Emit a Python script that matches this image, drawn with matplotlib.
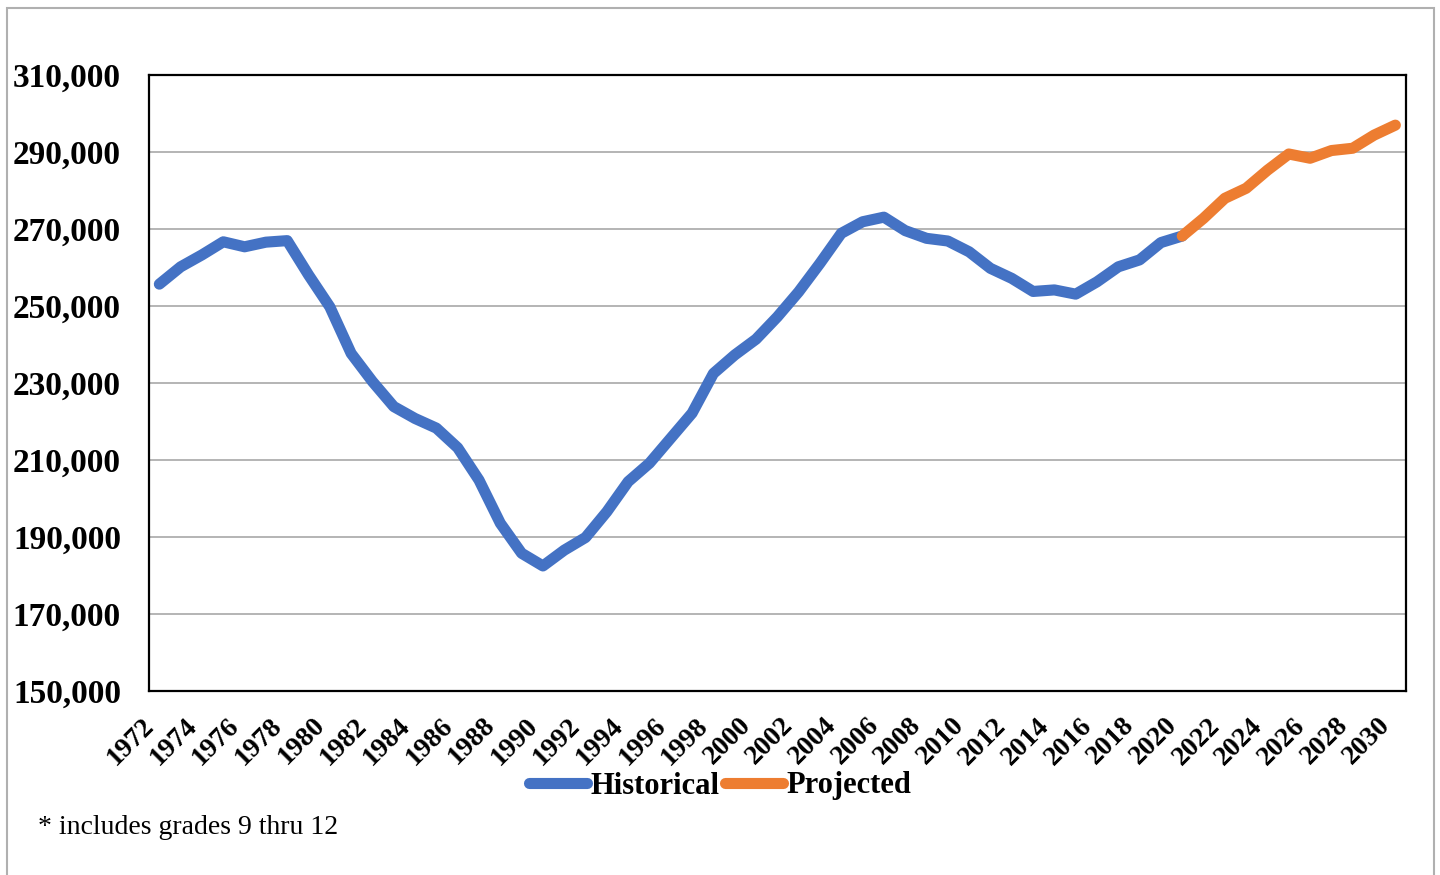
import numpy as np
import matplotlib
matplotlib.use('Agg')
import matplotlib.pyplot as plt
from matplotlib.patches import Rectangle
from matplotlib.ticker import FuncFormatter

# enrollment counts
hist_years = list(range(1972, 2021))
hist_vals = [255600, 260100, 263200, 266600, 265300, 266500, 266900, 258000, 249700, 237600,
             230300, 223800, 220700, 218200, 213100, 204700, 193500, 185700, 182400, 186500,
             189800, 196500, 204300, 209100, 215600, 222100, 232400, 237200, 241300, 247100,
             253600, 261000, 268800, 271800, 273000, 269500, 267500, 266800, 264000, 259700,
             257100, 253700, 254100, 253000, 256200, 260100, 261900, 266400, 268100]
proj_years = list(range(2020, 2031))
proj_vals = [268100, 272700, 277900, 280500, 285200, 289400, 288300, 290300, 290900, 294300, 296900]
tick_years = list(range(1972, 2031, 2))
y_ticks = list(range(150000, 310001, 20000))
footnote = '* includes grades 9 thru 12'

plt.rcParams['font.family'] = ['Liberation Serif', 'DejaVu Serif']

fig = plt.figure(figsize=(14.4, 8.75), dpi=100)
ax = fig.add_axes([148.7 / 1440, 1 - 690.7 / 875, (1406 - 148.7) / 1440, (690.7 - 74.7) / 875])

ax.plot(hist_years, hist_vals, color='#4472C4', lw=8, solid_capstyle='round',
        solid_joinstyle='round', label='Historical', zorder=3)
ax.plot(proj_years, proj_vals, color='#ED7D31', lw=8, solid_capstyle='round',
        solid_joinstyle='round', label='Projected', zorder=3)

ax.set_xlim(1971.5, 2030.5)
ax.set_ylim(150000, 310000)
ax.set_yticks(y_ticks)
ax.yaxis.set_major_formatter(FuncFormatter(lambda v, p: f'{int(v):,}'))
ax.set_xticks(tick_years)
ax.set_xticklabels([str(y) for y in tick_years], rotation=45, ha='right', va='top',
                   fontsize=20, fontweight='bold')
for lab in ax.get_yticklabels():
    lab.set_fontsize(24)
    lab.set_fontweight('bold')
ax.tick_params(axis='y', length=0, pad=20)
ax.tick_params(axis='x', length=0, pad=16)
ax.grid(axis='y', color='#a0a0a0', lw=1.1)
ax.set_axisbelow(True)
for s in ax.spines.values():
    s.set_color('black')
    s.set_linewidth(1.6)

fig.legend(loc='center', bbox_to_anchor=(0.5, 1 - 786 / 875), ncol=2, frameon=False,
           prop={'weight': 'bold', 'size': 22}, handlelength=1.9, handletextpad=0.1,
           columnspacing=0.2)

fig.text(38 / 1440, 1 - 828 / 875, footnote, fontsize=20, ha='left', va='center')

fig.patches.append(Rectangle((7 / 1440, -0.05), (1434 - 7) / 1440, 1.05 - 8 / 875,
                             transform=fig.transFigure, fill=False, edgecolor='#b0b0b0', lw=1.5))

fig.savefig('out.png', dpi=100)
